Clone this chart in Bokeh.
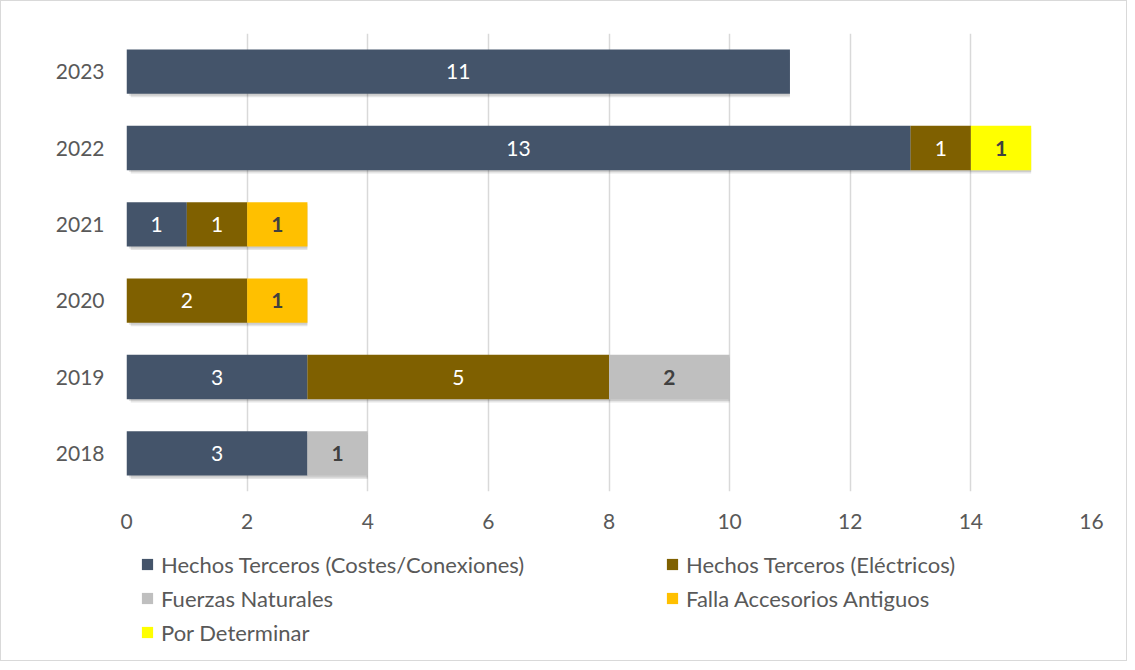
from bokeh.plotting import figure
from bokeh.layouts import column
from bokeh.models import ColumnDataSource, FixedTicker, Legend, LegendItem, FactorRange, Range1d
from bokeh.transform import dodge
from bokeh.core.properties import value
from bokeh.embed import file_html
from bokeh.resources import INLINE

years = ["2018", "2019", "2020", "2021", "2022", "2023"]
series = ["Hechos Terceros (Costes/Conexiones)", "Hechos Terceros (Eléctricos)",
          "Fuerzas Naturales", "Falla Accesorios Antiguos", "Por Determinar"]
costes = [3, 3, 0, 1, 13, 11]
electricos = [0, 5, 2, 1, 1, 0]
fuerzas = [1, 2, 0, 0, 0, 0]
falla = [0, 0, 1, 1, 0, 0]
por_determinar = [0, 0, 0, 0, 1, 0]
x_ticks = [0, 2, 4, 6, 8, 10, 12, 14, 16]

colors = ["#44546A", "#7F6000", "#BFBFBF", "#FFC000", "#FFFF00"]
label_colors = ["#FFFFFF", "#FFFFFF", "#404040", "#404040", "#404040"]
label_styles = ["normal", "normal", "bold", "bold", "bold"]
FONT = "Lato"

values = [costes, electricos, fuerzas, falla, por_determinar]
keys = ["s%d" % i for i in range(len(series))]
data = {"year": years}
for k, v in zip(keys, values):
    data[k] = v
totals = [sum(v[j] for v in values) for j in range(len(years))]
data["total"] = totals
src = ColumnDataSource(data)

W = 1125
p = figure(width=W, height=540, y_range=FactorRange(*years), x_range=Range1d(0, 16),
           output_backend="svg", toolbar_location=None,
           min_border_left=125, min_border_right=35, min_border_top=32, min_border_bottom=50)
p.outline_line_color = None

# soft shadow
for dx, dy, a in [(0.07, -0.045, 0.10), (0.04, -0.025, 0.10)]:
    p.hbar(y=dodge("year", dy, range=p.y_range), left=dx, right="total", height=0.58,
           source=src, fill_color="#000000", fill_alpha=a, line_color=None)

renderers = p.hbar_stack(keys, y="year", height=0.58, color=colors, source=src, line_color=None)

# labels
left = [0] * len(years)
for i, v in enumerate(values):
    xs, ys, ts = [], [], []
    for j, val in enumerate(v):
        if val > 0:
            xs.append(left[j] + val / 2)
            ys.append(years[j])
            ts.append(str(val))
        left[j] += val
    s = ColumnDataSource(dict(x=xs, y=ys, t=ts))
    p.text(x="x", y="y", text="t", source=s, text_align="center", text_baseline="middle",
           text_color=label_colors[i], text_font=value(FONT), text_font_size="21px",
           text_font_style=label_styles[i])

p.xaxis.ticker = FixedTicker(ticks=x_ticks)
p.xgrid.grid_line_color = "#D9D9D9"
p.xgrid.grid_line_width = 1.5
p.ygrid.grid_line_color = None
for ax in (p.xaxis[0], p.yaxis[0]):
    ax.axis_line_color = None
    ax.major_tick_line_color = None
    ax.minor_tick_line_color = None
    ax.major_tick_out = 0
    ax.major_tick_in = 0
    ax.major_label_text_font = FONT
    ax.major_label_text_font_size = "21px"
    ax.major_label_text_color = "#595959"
p.yaxis.major_label_standoff = 22
p.xaxis.major_label_standoff = 22

# legend figure (its frame is aligned with the chart's frame by the column layout)
lf = figure(width=W, height=119, x_range=Range1d(0, 1), y_range=Range1d(0, 1),
            output_backend="svg", toolbar_location=None,
            min_border_left=0, min_border_right=0, min_border_top=0, min_border_bottom=0)
lf.axis.visible = False
lf.grid.visible = False
lf.outline_line_color = None
# swatch renderers kept outside the visible range (only used for legend glyphs)
dummy_src = ColumnDataSource(dict(y=[-5], l=[-5], r=[-4]))
dummy = [lf.hbar(y="y", left="l", right="r", height=0.5, source=dummy_src,
                 fill_color=c, line_color=None) for c in colors]

common = dict(label_text_font=FONT, label_text_font_size="22px", label_text_color="#595959",
              glyph_width=14, glyph_height=14, label_standoff=7, label_height=24,
              spacing=7, padding=0, margin=0, border_line_color=None,
              background_fill_alpha=0)
col1 = [0, 2, 4]
col2 = [1, 3]
leg1 = Legend(items=[LegendItem(label=series[i], renderers=[dummy[i]]) for i in col1],
              location=(14, 14.5), **common)
leg2 = Legend(items=[LegendItem(label=series[i], renderers=[dummy[i]]) for i in col2],
              location=(539, 48.5), **common)
lf.add_layout(leg1)
lf.add_layout(leg2)

layout = column(p, lf, spacing=0)
layout.styles = {"border": "1px solid #D9D9D9"}

open("out.html", "w").write(file_html(layout, INLINE))
